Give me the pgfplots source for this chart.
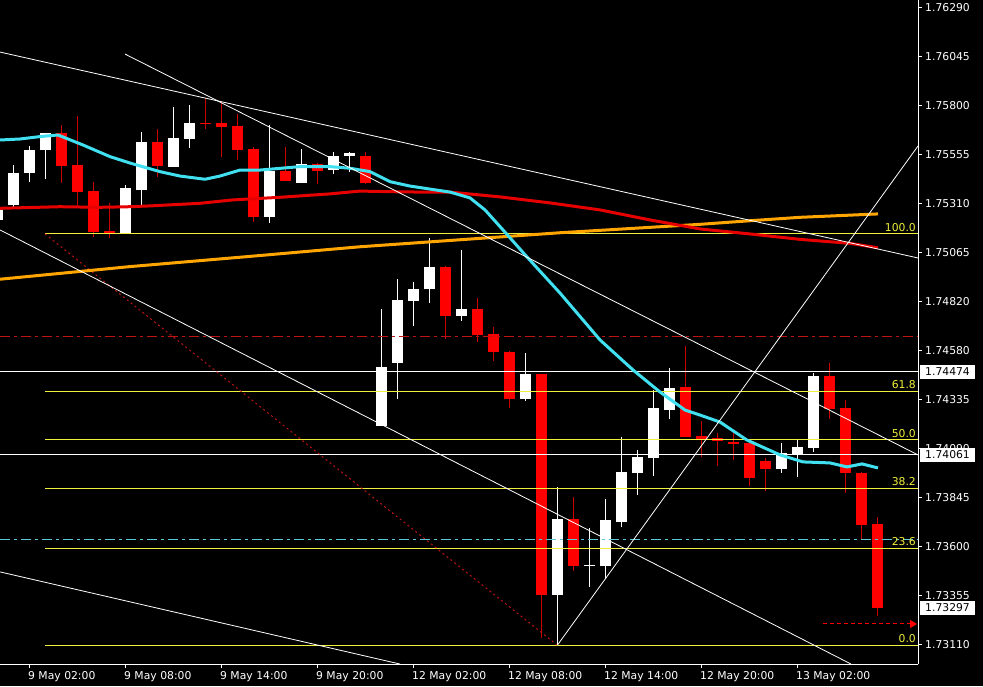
\documentclass[border=0pt]{standalone}
\usepackage{pgfplots}
\pgfplotsset{compat=1.18}
\usepackage{fontspec}
\setmainfont{DejaVu Sans}
\usetikzlibrary{arrows.meta}
\definecolor{mtcyan}{RGB}{64,224,240}
\definecolor{mtred}{RGB}{230,0,0}
\definecolor{mtorange}{RGB}{255,165,0}
\definecolor{fibyel}{RGB}{240,240,60}
\definecolor{bear}{RGB}{255,0,0}
\definecolor{bearwick}{RGB}{205,0,0}
\definecolor{ddred}{RGB}{190,20,20}
\definecolor{dcyan}{RGB}{90,200,215}
\begin{document}
\fontsize{10.8pt}{13pt}\selectfont
\begin{tikzpicture}
\fill[black] (0,0) rectangle (983pt,686pt);
\path[use as bounding box] (0,0) rectangle (983pt,686pt);
\begin{axis}[
  at={(0pt,22pt)}, anchor=south west,
  width=918pt, height=664pt, scale only axis,
  xmin=-1.84375, xmax=55.53125,
  ymin=1.730152, ymax=1.763299,
  axis x line*=bottom, axis y line*=right,
  axis line style={white, line width=1pt},
  tick align=outside, major tick length=4pt,
  tick style={white, line width=1pt},
  xtick={0,6,12,18,24,30,36,42,48},
  xticklabels={9 May 02:00,9 May 08:00,9 May 14:00,9 May 20:00,12 May 02:00,12 May 08:00,12 May 14:00,12 May 20:00,13 May 02:00},
  ytick={1.731101,1.733547,1.735993,1.738439,1.740885,1.743331,1.745778,1.748224,1.750670,1.753116,1.755562,1.758008,1.760454,1.762900},
  yticklabels={1.73110,1.73355,1.73600,1.73845,1.74090,1.74335,1.74580,1.74820,1.75065,1.75310,1.75555,1.75800,1.76045,1.76290},
  ticklabel style={text=white, font=\fontsize{10.8pt}{13pt}\selectfont},
  xticklabel style={anchor=north west, inner sep=0pt, xshift=-1.5pt, yshift=-3pt},
  yticklabel style={anchor=west, inner sep=0pt, xshift=3pt},
  clip mode=individual,
  unbounded coords=jump,
]
% bull wicks
\addplot[white, line width=1pt] coordinates {
(-2,1.75222)(-2,1.75307)(-2,nan)
(-1,1.75297)(-1,1.75506)(-1,nan)
(0,1.75421)(0,1.75601)(0,nan)
(1,1.75436)(1,1.75666)(1,nan)
(6,1.75162)(6,1.75406)(6,nan)
(7,1.75302)(7,1.75671)(7,nan)
(9,1.75496)(9,1.75796)(9,nan)
(10,1.75591)(10,1.75806)(10,nan)
(15,1.75217)(15,1.75706)(15,nan)
(17,1.75416)(17,1.75586)(17,nan)
(19,1.75461)(19,1.75571)(19,nan)
(20,1.75471)(20,1.75571)(20,nan)
(22,1.74203)(22,1.74787)(22,nan)
(23,1.74338)(23,1.74937)(23,nan)
(24,1.74703)(24,1.74922)(24,nan)
(25,1.74817)(25,1.75142)(25,nan)
(27,1.74728)(27,1.75082)(27,nan)
(31,1.74328)(31,1.74568)(31,nan)
(33,1.73110)(33,1.73899)(33,nan)
(35,1.73400)(35,1.73694)(35,nan)
(36,1.73440)(36,1.73839)(36,nan)
(37,1.73699)(37,1.74148)(37,nan)
(38,1.73859)(38,1.74083)(38,nan)
(39,1.73954)(39,1.74383)(39,nan)
(40,1.74238)(40,1.74493)(40,nan)
(47,1.73969)(47,1.74118)(47,nan)
(48,1.73949)(48,1.74138)(48,nan)
(49,1.74073)(49,1.74468)(49,nan)
};
% bull bodies
\addplot[white, line width=11pt] coordinates {
(-2,1.75232)(-2,1.75282)(-2,nan)
(-1,1.75307)(-1,1.75466)(-1,nan)
(0,1.75466)(0,1.75581)(0,nan)
(1,1.75581)(1,1.75666)(1,nan)
(6,1.75162)(6,1.75391)(6,nan)
(7,1.75381)(7,1.75621)(7,nan)
(9,1.75496)(9,1.75641)(9,nan)
(10,1.75636)(10,1.75716)(10,nan)
(15,1.75247)(15,1.75476)(15,nan)
(17,1.75416)(17,1.75511)(17,nan)
(19,1.75481)(19,1.75551)(19,nan)
(20,1.75551)(20,1.75566)(20,nan)
(22,1.74203)(22,1.74498)(22,nan)
(23,1.74518)(23,1.74832)(23,nan)
(24,1.74827)(24,1.74887)(24,nan)
(25,1.74887)(25,1.74997)(25,nan)
(27,1.74752)(27,1.74787)(27,nan)
(31,1.74338)(31,1.74463)(31,nan)
(33,1.73360)(33,1.73739)(33,nan)
(35,1.73504)(35,1.73509)(35,nan)
(36,1.73504)(36,1.73734)(36,nan)
(37,1.73724)(37,1.73974)(37,nan)
(38,1.73969)(38,1.74049)(38,nan)
(39,1.74044)(39,1.74293)(39,nan)
(40,1.74283)(40,1.74393)(40,nan)
(47,1.73989)(47,1.74068)(47,nan)
(48,1.74063)(48,1.74098)(48,nan)
(49,1.74093)(49,1.74453)(49,nan)
};
% bear wicks
\addplot[bearwick, line width=1pt] coordinates {
(2,1.75706)(2,1.75416)(2,nan)
(3,1.75751)(3,1.75307)(3,nan)
(4,1.75421)(4,1.75147)(4,nan)
(5,1.75317)(5,1.75142)(5,nan)
(8,1.75686)(8,1.75446)(8,nan)
(11,1.75836)(11,1.75686)(11,nan)
(12,1.75821)(12,1.75546)(12,nan)
(13,1.75761)(13,1.75531)(13,nan)
(14,1.75596)(14,1.75222)(14,nan)
(16,1.75596)(16,1.75426)(16,nan)
(18,1.75516)(18,1.75411)(18,nan)
(21,1.75571)(21,1.75411)(21,nan)
(26,1.75002)(26,1.74638)(26,nan)
(28,1.74842)(28,1.74623)(28,nan)
(29,1.74698)(29,1.74528)(29,nan)
(30,1.74578)(30,1.74293)(30,nan)
(32,1.74463)(32,1.73145)(32,nan)
(34,1.73849)(34,1.73480)(34,nan)
(41,1.74603)(41,1.74148)(41,nan)
(42,1.74228)(42,1.74049)(42,nan)
(43,1.74168)(43,1.74004)(43,nan)
(44,1.74168)(44,1.74034)(44,nan)
(45,1.74123)(45,1.73904)(45,nan)
(46,1.74044)(46,1.73879)(46,nan)
(50,1.74518)(50,1.74238)(50,nan)
(51,1.74333)(51,1.73869)(51,nan)
(52,1.73974)(52,1.73639)(52,nan)
(53,1.73749)(53,1.73255)(53,nan)
};
% bear bodies
\addplot[bear, line width=11pt] coordinates {
(2,1.75666)(2,1.75501)(2,nan)
(3,1.75506)(3,1.75371)(3,nan)
(4,1.75376)(4,1.75172)(4,nan)
(5,1.75177)(5,1.75162)(5,nan)
(8,1.75621)(8,1.75501)(8,nan)
(11,1.75716)(11,1.75711)(11,nan)
(12,1.75716)(12,1.75696)(12,nan)
(13,1.75701)(13,1.75581)(13,nan)
(14,1.75586)(14,1.75247)(14,nan)
(16,1.75476)(16,1.75426)(16,nan)
(18,1.75511)(18,1.75476)(18,nan)
(21,1.75551)(21,1.75416)(21,nan)
(26,1.74997)(26,1.74752)(26,nan)
(28,1.74787)(28,1.74658)(28,nan)
(29,1.74663)(29,1.74573)(29,nan)
(30,1.74573)(30,1.74338)(30,nan)
(32,1.74463)(32,1.73360)(32,nan)
(34,1.73739)(34,1.73504)(34,nan)
(41,1.74398)(41,1.74148)(41,nan)
(42,1.74153)(42,1.74138)(42,nan)
(43,1.74143)(43,1.74128)(43,nan)
(44,1.74123)(44,1.74113)(44,nan)
(45,1.74118)(45,1.73944)(45,nan)
(46,1.74029)(46,1.73989)(46,nan)
(50,1.74453)(50,1.74288)(50,nan)
(51,1.74293)(51,1.73969)(51,nan)
(52,1.73969)(52,1.73709)(52,nan)
(53,1.73714)(53,1.73295)(53,nan)
};
% horizontal levels
\addplot[white, line width=1pt] coordinates {(-1.84375,1.74474)(55.53125,1.74474)};
\addplot[white, line width=1pt] coordinates {(-1.84375,1.74061)(55.53125,1.74061)};
\addplot[ddred, line width=1pt, dash pattern=on 10pt off 4pt on 3pt off 4pt] coordinates {(-1.84375,1.74648)(55.53125,1.74648)};
\addplot[dcyan, line width=1pt, dash pattern=on 10pt off 4pt on 3pt off 4pt] coordinates {(-1.84375,1.73639)(55.53125,1.73639)};
% fibonacci
\addplot[fibyel, line width=1pt] coordinates {(0.969,1.75162)(55.53125,1.75162)};
\addplot[fibyel, line width=1pt] coordinates {(0.969,1.74377)(55.53125,1.74377)};
\addplot[fibyel, line width=1pt] coordinates {(0.969,1.74135)(55.53125,1.74135)};
\addplot[fibyel, line width=1pt] coordinates {(0.969,1.73893)(55.53125,1.73893)};
\addplot[fibyel, line width=1pt] coordinates {(0.969,1.73593)(55.53125,1.73593)};
\addplot[fibyel, line width=1pt] coordinates {(0.969,1.73108)(55.53125,1.73108)};
\addplot[ddred, line width=1pt, dash pattern=on 2pt off 3pt] coordinates {(0.969,1.75162)(33,1.73108)};
% moving averages
\addplot[mtorange, line width=3pt, line join=round] coordinates {
(-1.844,1.74936)(6.281,1.74999)(13.781,1.75050)(20.656,1.75098)(33.156,1.75168)(41.906,1.75210)(45.031,1.75228)(48.156,1.75245)(53.031,1.75262)};
\addplot[mtred, line width=3pt, line join=round] coordinates {
(-1.844,1.75290)(1.906,1.75298)(4.406,1.75295)(6.281,1.75298)(7.531,1.75302)(10.656,1.75315)(12.719,1.75332)(15.656,1.75345)(18.781,1.75362)(20.656,1.75376)(22.531,1.75373)(24.406,1.75371)(26.281,1.75371)(29.406,1.75347)(32.531,1.75317)(35.656,1.75282)(38.781,1.75232)(41.906,1.75187)(45.031,1.75162)(48.156,1.75135)(51.281,1.75115)(53.031,1.75093)};
\addplot[mtcyan, line width=3pt, line join=round] coordinates {
(-1.844,1.75631)(-0.594,1.75636)(0.656,1.75648)(1.781,1.75656)(3.344,1.75606)(5.031,1.75548)(6.281,1.75516)(8.156,1.75473)(9.406,1.75451)(10.969,1.75435)(11.906,1.75451)(13.156,1.75481)(14.406,1.75481)(16.906,1.75498)(18.781,1.75498)(20.031,1.75490)(21.281,1.75473)(22.531,1.75423)(23.781,1.75401)(25.031,1.75386)(26.281,1.75371)(27.531,1.75342)(28.469,1.75282)(29.594,1.75182)(31.094,1.75047)(33.156,1.74867)(35.656,1.74633)(37.719,1.74483)(39.406,1.74373)(40.969,1.74283)(41.906,1.74258)(43.156,1.74223)(44.844,1.74133)(46.906,1.74059)(48.344,1.74024)(50.031,1.74019)(51.094,1.73999)(52.031,1.74014)(53.031,1.73994)};
% trend lines
\addplot[white, line width=0.8pt] coordinates {(-1.844,1.76070)(55.531,1.75042)};
\addplot[white, line width=0.8pt] coordinates {(5.969,1.76060)(55.531,1.74059)};
\addplot[white, line width=0.8pt] coordinates {(-1.844,1.75182)(51.344,1.73015)};
\addplot[white, line width=0.8pt] coordinates {(-1.844,1.73475)(23.156,1.73015)};
\addplot[white, line width=0.8pt] coordinates {(33,1.73110)(55.531,1.75601)};
% price shift arrow
\addplot[bear, line width=1pt, dash pattern=on 4pt off 3pt, -{Triangle[length=7pt,width=8pt]}] coordinates {(49.594,1.73215)(55.47,1.73215)};
% fibo labels
\node[anchor=base east, text=fibyel, inner sep=0pt, xshift=-2pt, yshift=2.5pt] at (axis cs:55.53125,1.75162) {100.0};
\node[anchor=base east, text=fibyel, inner sep=0pt, xshift=-2pt, yshift=2.5pt] at (axis cs:55.53125,1.74377) {61.8};
\node[anchor=base east, text=fibyel, inner sep=0pt, xshift=-2pt, yshift=2.5pt] at (axis cs:55.53125,1.74135) {50.0};
\node[anchor=base east, text=fibyel, inner sep=0pt, xshift=-2pt, yshift=2.5pt] at (axis cs:55.53125,1.73893) {38.2};
\node[anchor=base east, text=fibyel, inner sep=0pt, xshift=-2pt, yshift=2.5pt] at (axis cs:55.53125,1.73593) {23.6};
\node[anchor=base east, text=fibyel, inner sep=0pt, xshift=-2pt, yshift=2.5pt] at (axis cs:55.53125,1.73108) {0.0};
\coordinate (b1) at (axis cs:55.53125,1.74474);
\coordinate (b2) at (axis cs:55.53125,1.74061);
\coordinate (b3) at (axis cs:55.53125,1.73297);
\end{axis}
\foreach \c/\t in {b1/1.74474,b2/1.74061,b3/1.73297}{
  \node[fill=white, text=black, anchor=west, inner xsep=5pt, inner ysep=0pt, minimum height=14pt, xshift=2pt, font=\fontsize{10.8pt}{13pt}\selectfont] at (\c) {\t};
}
\end{tikzpicture}
\end{document}
